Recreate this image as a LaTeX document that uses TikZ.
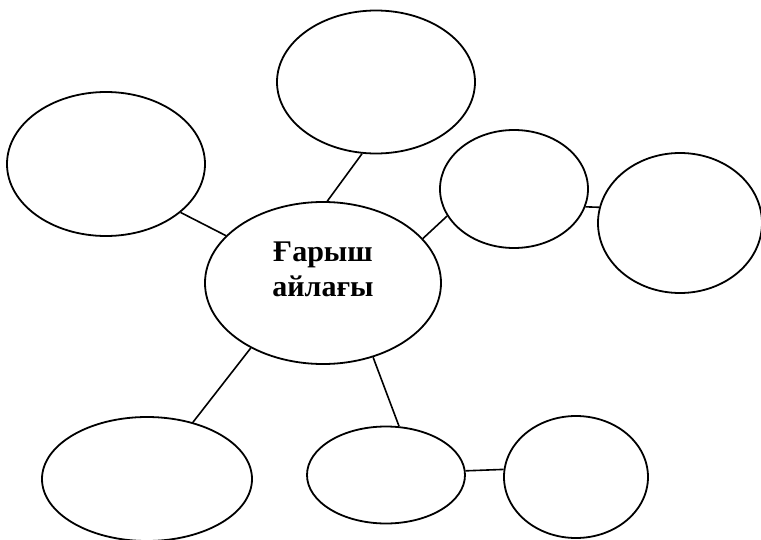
\documentclass[tikz,border=0pt]{standalone}
\usepackage{fontspec}
\setmainfont{Liberation Serif}
\usetikzlibrary{shapes.geometric, positioning}

\tikzset{
  bubble/.style={ellipse, draw, line width=1.8pt, inner sep=0pt},
  link/.style={line width=1.6pt},
  hubtext/.style={align=center, font=\fontsize{30}{35}\selectfont\bfseries}
}

\begin{document}
\begin{tikzpicture}[on grid]
    \useasboundingbox (-323pt,-256pt) rectangle (438pt,283pt);

    % Hub
    \node[bubble, minimum width=236pt, minimum height=162pt,
          label={[hubtext, yshift=14pt]center:Ғарыш\\айлағы}] (hub) at (0,0) {};

    % Upper branches
    \node[bubble, minimum width=198pt, minimum height=143pt] (top) [above right=201pt and 53pt of hub] {};
    \node[bubble, minimum width=198pt, minimum height=144pt] (left) [above left=119pt and 217pt of hub] {};
    \node[bubble, minimum width=148pt, minimum height=118pt] (rmid) [above right=94pt and 191pt of hub] {};
    \node[bubble, minimum width=164pt, minimum height=140pt] (far) [below right=34pt and 166pt of rmid] {};

    % Lower branches
    \node[bubble, minimum width=210pt, minimum height=124pt] (bleft) [below left=196pt and 176pt of hub] {};
    \node[bubble, minimum width=158pt, minimum height=97pt] (bmid) [below right=192pt and 63pt of hub] {};
    \node[bubble, minimum width=144pt, minimum height=122pt] (bright) [below right=2pt and 190pt of bmid] {};

    \path[link]
    % hub to its neighbours
    (hub.87) edge (top.-101)
    (hub.154) edge (left.-33)
    (hub.24) edge (rmid.202)
    (hub.-138) edge (bleft.51)
    (hub.-56) edge (bmid.75)

    % outer pairs
    (rmid.-14) edge (far.169)
    (bmid.3) edge (bright.174);
\end{tikzpicture}
\end{document}
